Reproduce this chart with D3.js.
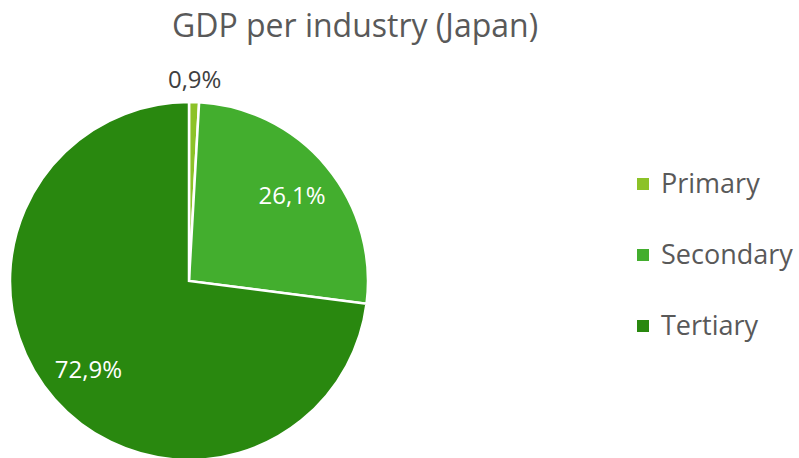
<!DOCTYPE html>
<html>
<head>
<meta charset="utf-8">
<script src="https://cdn.jsdelivr.net/npm/d3@7"></script>
<style>
  html, body { margin: 0; padding: 0; background: #fff; }
  svg { display: block; }
  text { font-family: "Open Sans", sans-serif; }
</style>
</head>
<body>
<svg id="chart" width="799" height="458"></svg>
<script>
// GDP share by industry sector, Japan (percent)
const sectors = ["Primary", "Secondary", "Tertiary"];
const shares = [0.9, 26.1, 72.9];
const shareLabels = ["0,9%", "26,1%", "72,9%"];
const sectorColors = ["#8cc228", "#43ae2e", "#29880f"];

const width = 799, height = 458;
const cx = 189, cy = 281, radius = 179;

const svg = d3.select("#chart");

svg.append("text")
  .attr("x", 355)
  .attr("y", 37)
  .attr("text-anchor", "middle")
  .attr("fill", "#595959")
  .attr("font-size", 32)
  .text("GDP per industry (Japan)");

const color = d3.scaleOrdinal().domain(sectors).range(sectorColors);

const pie = d3.pie().sort(null).value(d => d.value);
const data = sectors.map((s, i) => ({ name: s, value: shares[i], label: shareLabels[i] }));
const arcs = pie(data);

const arc = d3.arc().innerRadius(0).outerRadius(radius);
const insideLabel = d3.arc().innerRadius(134).outerRadius(134);
const outsideLabel = d3.arc().innerRadius(201).outerRadius(201);

const g = svg.append("g").attr("transform", `translate(${cx},${cy})`);

g.selectAll("path.slice")
  .data(arcs)
  .join("path")
  .attr("class", "slice")
  .attr("d", arc)
  .attr("fill", d => color(d.data.name))
  .attr("stroke", "#fff")
  .attr("stroke-width", 2.5)
  .attr("stroke-linejoin", "miter");

g.selectAll("text.value")
  .data(arcs)
  .join("text")
  .attr("class", "value")
  .attr("transform", d => {
    const small = d.data.value < 5;
    const [x, y] = (small ? outsideLabel : insideLabel).centroid(d);
    return `translate(${x},${y})`;
  })
  .attr("text-anchor", "middle")
  .attr("dy", "0.35em")
  .attr("font-size", 24)
  .attr("fill", d => d.data.value < 5 ? "#404040" : "#ffffff")
  .text(d => d.data.label);

// Legend
const legend = svg.append("g").attr("transform", "translate(637,184)");
const items = legend.selectAll("g")
  .data(data)
  .join("g")
  .attr("transform", (d, i) => `translate(0,${i * 71})`);

items.append("rect")
  .attr("x", 0)
  .attr("y", -6)
  .attr("width", 12)
  .attr("height", 12)
  .attr("fill", d => color(d.name));

items.append("text")
  .attr("x", 24)
  .attr("y", 0)
  .attr("dy", "0.35em")
  .attr("font-size", 27)
  .attr("fill", "#595959")
  .text(d => d.name);
</script>
</body>
</html>
